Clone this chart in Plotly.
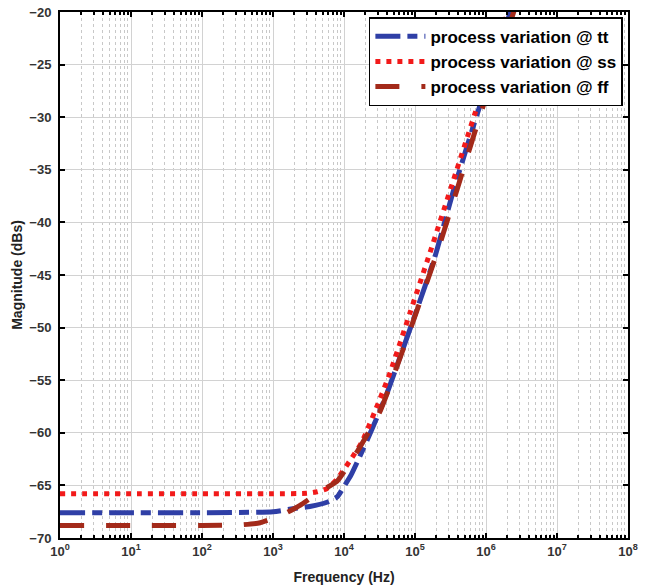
import plotly.graph_objects as go

# ---- data ----
freq_tt = [1, 10, 100, 1000, 2000, 3300, 5750, 8000, 9800, 12600, 15800,
           25000, 40000, 63000, 100000, 190000, 347000, 776000, 1580000, 2800000]
mag_tt = [-67.6, -67.6, -67.6, -67.5, -67.2, -67.0, -66.6, -66.1, -65.2, -64.0, -62.6,
          -59.6, -56.3, -52.6, -48.8, -43.3, -37.0, -29.4, -23.0, -17.8]

freq_ss = [1, 10, 100, 1000, 3000, 4200, 5750, 8000, 12000, 17800, 32000,
           45000, 85000, 162000, 347000, 776000, 1580000, 2800000]
mag_ss = [-65.8, -65.8, -65.8, -65.8, -65.75, -65.6, -65.3, -64.4, -62.7, -60.9, -56.8,
          -54.2, -48.6, -42.9, -36.0, -28.7, -22.3, -17.0]

freq_ff = [1, 10, 100, 350, 660, 1350, 2400, 4600, 8000, 12000, 17000,
           32000, 93000, 204000, 347000, 776000, 1580000, 2800000]
mag_ff = [-68.8, -68.8, -68.8, -68.75, -68.55, -67.8, -66.9, -65.6, -64.6, -62.9, -61.3,
          -58.0, -49.5, -42.9, -38.0, -30.4, -24.0, -18.8]

names = ["process variation @ tt", "process variation @ ss", "process variation @ ff"]
x_tick_vals = [10 ** k for k in range(0, 9)]
x_tick_text = ["10<sup>%d</sup>" % k for k in range(0, 9)]
y_tick_vals = [-70, -65, -60, -55, -50, -45, -40, -35, -30, -25, -20]

FONT = "Liberation Sans, Arial, Helvetica, sans-serif"

fig = go.Figure()
fig.add_trace(go.Scatter(x=freq_tt, y=mag_tt, mode="lines", name=names[0],
                         line=dict(color="#2f3fa6", width=5, dash="25px,7px,10px,7px",
                                   shape="spline", smoothing=0.5)))
fig.add_trace(go.Scatter(x=freq_ss, y=mag_ss, mode="lines", name=names[1],
                         line=dict(color="#f21a1a", width=5, dash="5px,6px",
                                   shape="spline", smoothing=0.5)))
fig.add_trace(go.Scatter(x=freq_ff, y=mag_ff, mode="lines", name=names[2],
                         line=dict(color="#a32a1a", width=5, dash="24px,22px",
                                   shape="spline", smoothing=0.5)))

minor_vals = [k * 10 ** d for d in range(0, 8) for k in range(2, 10)]

fig.update_xaxes(
    type="log", range=[0, 8], automargin=False, ticklabeloverflow="allow",
    tickmode="array", tickvals=x_tick_vals, ticktext=x_tick_text,
    ticks="inside", ticklen=5, tickwidth=1.5, tickcolor="black",
    showline=True, linecolor="black", linewidth=2, mirror="ticks",
    showgrid=True, gridcolor="#d2d2d2", gridwidth=1,
    minor=dict(tickmode="array", tickvals=minor_vals, ticks="inside", ticklen=3,
               tickcolor="black", showgrid=True, gridcolor="#c8c8c8", griddash="dot", gridwidth=1),
    tickfont=dict(family=FONT, size=13, color="#333333", weight="bold"),
    title=dict(text="Frequency (Hz)", font=dict(family=FONT, size=14, color="#222222", weight="bold"),
               standoff=15),
    zeroline=False,
)
fig.update_yaxes(
    range=[-70, -20], tickmode="array", tickvals=y_tick_vals, automargin=False,
    ticklabeloverflow="allow",
    ticks="inside", ticklen=5, tickwidth=1.5, tickcolor="black",
    showline=True, linecolor="black", linewidth=2, mirror="ticks",
    showgrid=True, gridcolor="#d2d2d2", gridwidth=1,
    tickfont=dict(family=FONT, size=13, color="#333333", weight="bold"),
    ticklabelstandoff=4,
    title=dict(text="Magnitude (dBs)", font=dict(family=FONT, size=14, color="#222222", weight="bold"),
               standoff=3),
    zeroline=False,
)

fig.update_layout(
    width=645, height=587,
    margin=dict(l=60, r=17, t=12, b=49),
    paper_bgcolor="white", plot_bgcolor="white",
    showlegend=True,
    legend=dict(x=0.991, y=0.99, xanchor="right", yanchor="top",
                bgcolor="white", bordercolor="black", borderwidth=1.5,
                font=dict(family=FONT, size=17, color="black", weight="bold"),
                itemwidth=50, tracegroupgap=0),
)

fig.write_html("out.html", config={"displayModeBar": False},
               post_script="document.body.style.margin='0';document.body.style.overflow='hidden';")
